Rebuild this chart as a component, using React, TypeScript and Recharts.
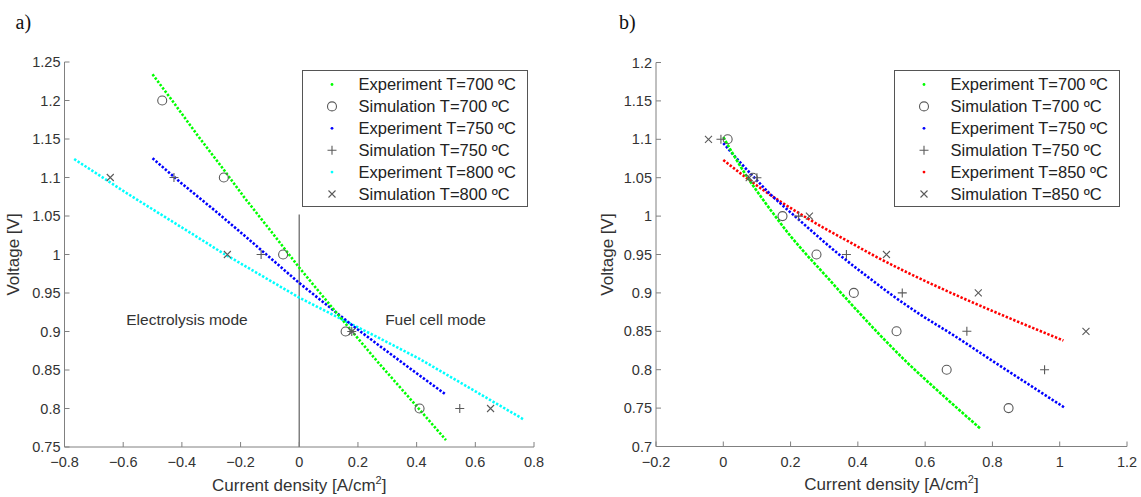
import React from 'react'
import { ComposedChart, Line, Scatter, XAxis, YAxis, ReferenceLine, ReferenceDot, Legend, Label } from 'recharts'

// ---- panel a) ----
const ticksXA = [-0.8, -0.6, -0.4, -0.2, 0, 0.2, 0.4, 0.6, 0.8]
const ticksYA = [0.75, 0.8, 0.85, 0.9, 0.95, 1, 1.05, 1.1, 1.15, 1.2, 1.25]

const expA700X = [-0.5, -0.435, -0.349, -0.259, -0.185, -0.1, 0, 0.071, 0.167, 0.264, 0.4, 0.5]
const expA700Y = [1.234, 1.201, 1.156, 1.111, 1.073, 1.032, 0.983, 0.95, 0.906, 0.862, 0.803, 0.759]
const expA750X = [-0.5, -0.406, -0.281, -0.185, 0, 0.105, 0.184, 0.275, 0.406, 0.5]
const expA750Y = [1.125, 1.094, 1.055, 1.024, 0.963, 0.931, 0.907, 0.881, 0.844, 0.818]
const expA800X = [-0.767, -0.577, -0.349, -0.27, 0, 0.139, 0.275, 0.412, 0.764]
const expA800Y = [1.124, 1.077, 1.023, 1.004, 0.944, 0.917, 0.891, 0.864, 0.786]

const simA700X = [-0.467, -0.257, -0.055, 0.158, 0.41]
const simA700Y = [1.2, 1.1, 1.0, 0.9, 0.8]
const simA750X = [-0.427, -0.13, 0.179, 0.547]
const simA750Y = [1.1, 1.0, 0.9, 0.8]
const simA800X = [-0.644, -0.245, 0.18, 0.652]
const simA800Y = [1.1, 1.0, 0.9, 0.8]

const zeroLineTop = 1.052

// ---- panel b) ----
const ticksXB = [-0.2, 0, 0.2, 0.4, 0.6, 0.8, 1, 1.2]
const ticksYB = [0.7, 0.75, 0.8, 0.85, 0.9, 0.95, 1, 1.05, 1.1, 1.15, 1.2]

const expB700X = [0, 0.03, 0.074, 0.109, 0.144, 0.198, 0.243, 0.293, 0.377, 0.466, 0.545, 0.639, 0.765]
const expB700Y = [1.103, 1.08, 1.049, 1.027, 1.006, 0.975, 0.952, 0.928, 0.887, 0.845, 0.81, 0.772, 0.723]
const expB750X = [0, 0.05, 0.099, 0.134, 0.189, 0.223, 0.285, 0.347, 0.426, 0.505, 0.585, 0.684, 0.788, 1.013]
const expB750Y = [1.095, 1.07, 1.047, 1.031, 1.009, 0.996, 0.972, 0.949, 0.922, 0.896, 0.872, 0.845, 0.815, 0.751]
const expB850X = [0, 0.05, 0.099, 0.159, 0.228, 0.297, 0.372, 0.446, 0.545, 0.642, 0.713, 0.862, 1.011]
const expB850Y = [1.073, 1.056, 1.04, 1.022, 1.003, 0.985, 0.967, 0.949, 0.927, 0.907, 0.893, 0.865, 0.838]

const simB700X = [0.013, 0.088, 0.176, 0.277, 0.388, 0.515, 0.664, 0.848]
const simB700Y = [1.1, 1.05, 1.0, 0.95, 0.9, 0.85, 0.8, 0.75]
const simB750X = [-0.007, 0.1, 0.224, 0.366, 0.532, 0.724, 0.955]
const simB750Y = [1.1, 1.05, 1.0, 0.95, 0.9, 0.85, 0.8]
const simB850X = [-0.044, 0.077, 0.256, 0.485, 0.758, 1.078]
const simB850Y = [1.1, 1.05, 1.0, 0.95, 0.9, 0.85]

const legendA = [
  { name: 'Experiment T=700 ºC', kind: 'dot', color: '#00ff00' },
  { name: 'Simulation T=700 ºC', kind: 'circle', color: '#5a5a5a' },
  { name: 'Experiment T=750 ºC', kind: 'dot', color: '#0000ff' },
  { name: 'Simulation T=750 ºC', kind: 'plus', color: '#5a5a5a' },
  { name: 'Experiment T=800 ºC', kind: 'dot', color: '#00ffff' },
  { name: 'Simulation T=800 ºC', kind: 'cross', color: '#5a5a5a' },
]
const legendB = [
  { name: 'Experiment T=700 ºC', kind: 'dot', color: '#00ff00' },
  { name: 'Simulation T=700 ºC', kind: 'circle', color: '#5a5a5a' },
  { name: 'Experiment T=750 ºC', kind: 'dot', color: '#0000ff' },
  { name: 'Simulation T=750 ºC', kind: 'plus', color: '#5a5a5a' },
  { name: 'Experiment T=850 ºC', kind: 'dot', color: '#ff0000' },
  { name: 'Simulation T=850 ºC', kind: 'cross', color: '#5a5a5a' },
]

const pts = (xs: number[], ys: number[]) => xs.map((x, i) => ({ x, y: ys[i] }))

const font = '"Liberation Sans", Arial, sans-serif'
const axisColor = '#808080'
const textColor = '#333333'
const simColor = '#5a5a5a'

const fmt = (v: number) => String(Math.round(v * 100) / 100).replace('-', '\u2212')

function marker(kind: string, cx: number, cy: number, color: string) {
  if (kind === 'circle') return <circle cx={cx} cy={cy} r={4.5} fill="none" stroke={color} strokeWidth={1.1} />
  if (kind === 'plus')
    return <path d={`M${cx - 4.5},${cy}H${cx + 4.5}M${cx},${cy - 4.5}V${cy + 4.5}`} stroke={color} strokeWidth={1.1} />
  if (kind === 'cross')
    return (
      <path
        d={`M${cx - 3.5},${cy - 3.5}L${cx + 3.5},${cy + 3.5}M${cx - 3.5},${cy + 3.5}L${cx + 3.5},${cy - 3.5}`}
        stroke={color}
        strokeWidth={1.1}
      />
    )
  return <circle cx={cx} cy={cy} r={1.4} fill={color} />
}

const shapeOf = (kind: string) => (p: any) => marker(kind, p.cx, p.cy, simColor)

const XTick = (p: any) => (
  <g>
    <line x1={p.x} x2={p.x} y1={p.y} y2={p.y - 5} stroke={axisColor} />
    <text x={p.x} y={p.y + 20} textAnchor="middle" fontSize={14.5} fill={textColor}>
      {fmt(p.payload.value)}
    </text>
  </g>
)

const YTick = (p: any) => (
  <g>
    <line x1={p.x} x2={p.x + 5} y1={p.y} y2={p.y} stroke={axisColor} />
    <text x={p.x - 4} y={p.y + 5} textAnchor="end" fontSize={14.5} fill={textColor}>
      {fmt(p.payload.value)}
    </text>
  </g>
)

const xTitle = (p: any) => {
  const vb = p.viewBox
  return (
    <text x={vb.x + vb.width / 2} y={vb.y + 43.5} textAnchor="middle" fontSize={17} fill={textColor}>
      Current density [A/cm
      <tspan dy={-7} fontSize={11}>2</tspan>
      <tspan dy={7}>]</tspan>
    </text>
  )
}

const yTitle = (xPos: number) => (p: any) => {
  const vb = p.viewBox
  const cy = vb.y + vb.height / 2
  return (
    <text x={xPos} y={cy} textAnchor="middle" fontSize={17} fill={textColor} transform={`rotate(-90, ${xPos}, ${cy})`}>
      Voltage [V]
    </text>
  )
}

function LegendBox({ items }: { items: typeof legendA }) {
  return (
    <svg width={227} height={138} style={{ display: 'block', fontFamily: font }}>
      <rect x={0.5} y={0.5} width={225} height={136} fill="#fff" stroke="#555" strokeWidth={1} />
      {items.map((it, i) => {
        const cy = 14.5 + i * 21.9
        return (
          <g key={it.name}>
            {marker(it.kind, 30, cy, it.color)}
            <text x={56.5} y={cy + 5.9} fontSize={16.5} fill="#222">
              {it.name}
            </text>
          </g>
        )
      })}
    </svg>
  )
}

const dotted = { strokeWidth: 2.6, strokeDasharray: '2.4 1.7', dot: false, activeDot: false, isAnimationActive: false }

export default function App() {
  return (
    <div style={{ position: 'absolute', left: 0, top: 0, width: 1141, height: 497, background: '#fff', fontFamily: font }}>
      <svg width={1141} height={497} style={{ position: 'absolute', left: 0, top: 0 }}>
        <text x={15.5} y={28.5} fontSize={20} fontFamily='"Liberation Serif", serif' fill="#111">a)</text>
        <text x={619} y={28.5} fontSize={20} fontFamily='"Liberation Serif", serif' fill="#111">b)</text>
      </svg>

      <div style={{ position: 'absolute', left: 0, top: 0 }}>
        <ComposedChart width={560} height={497} margin={{ top: 62, right: 26, bottom: 0, left: 0 }}>
          <XAxis
            type="number"
            dataKey="x"
            domain={[-0.8, 0.8]}
            ticks={ticksXA}
            interval={0}
            allowDataOverflow
            height={50}
            axisLine={{ stroke: axisColor }}
            tickLine={false}
            tickSize={0}
            tickMargin={0}
            tick={XTick}
          >
            <Label content={xTitle} />
          </XAxis>
          <YAxis
            type="number"
            dataKey="y"
            domain={[0.75, 1.25]}
            ticks={ticksYA}
            interval={0}
            allowDataOverflow
            width={64.5}
            axisLine={{ stroke: axisColor }}
            tickLine={false}
            tickSize={0}
            tickMargin={0}
            tick={YTick}
          >
            <Label content={yTitle(19)} />
          </YAxis>
          <ReferenceLine segment={[{ x: 0, y: 0.75 }, { x: 0, y: zeroLineTop }]} stroke={axisColor} strokeWidth={1.5} />
          <ReferenceDot x={-0.3825} y={0.9162} r={0} fill="none" stroke="none"
            label={{ value: 'Electrolysis mode', position: 'center', fill: textColor, fontSize: 15.5 }} />
          <ReferenceDot x={0.4645} y={0.915} r={0} fill="none" stroke="none"
            label={{ value: 'Fuel cell mode', position: 'center', fill: textColor, fontSize: 15.5 }} />
          <Line data={pts(expA800X, expA800Y)} dataKey="y" type="linear" stroke="#00ffff" {...dotted} />
          <Line data={pts(expA750X, expA750Y)} dataKey="y" type="linear" stroke="#0000ff" {...dotted} />
          <Line data={pts(expA700X, expA700Y)} dataKey="y" type="linear" stroke="#00ff00" {...dotted} />
          <Scatter data={pts(simA700X, simA700Y)} shape={shapeOf('circle')} isAnimationActive={false} />
          <Scatter data={pts(simA750X, simA750Y)} shape={shapeOf('plus')} isAnimationActive={false} />
          <Scatter data={pts(simA800X, simA800Y)} shape={shapeOf('cross')} isAnimationActive={false} />
          <Legend
            layout="vertical"
            align="center"
            verticalAlign="middle"
            wrapperStyle={{ top: 69.5, left: 301.5, width: 227, height: 138 }}
            content={() => <LegendBox items={legendA} />}
          />
        </ComposedChart>
      </div>

      <div style={{ position: 'absolute', left: 570, top: 0 }}>
        <ComposedChart width={571} height={497} margin={{ top: 62.5, right: 14, bottom: 0, left: 0 }}>
          <XAxis
            type="number"
            dataKey="x"
            domain={[-0.2, 1.2]}
            ticks={ticksXB}
            interval={0}
            allowDataOverflow
            height={50.5}
            axisLine={{ stroke: axisColor }}
            tickLine={false}
            tickSize={0}
            tickMargin={0}
            tick={XTick}
          >
            <Label content={xTitle} />
          </XAxis>
          <YAxis
            type="number"
            dataKey="y"
            domain={[0.7, 1.2]}
            ticks={ticksYB}
            interval={0}
            allowDataOverflow
            width={86}
            axisLine={{ stroke: axisColor }}
            tickLine={false}
            tickSize={0}
            tickMargin={0}
            tick={YTick}
          >
            <Label content={yTitle(43)} />
          </YAxis>
          <Line data={pts(expB850X, expB850Y)} dataKey="y" type="monotone" stroke="#ff0000" {...dotted} />
          <Line data={pts(expB750X, expB750Y)} dataKey="y" type="monotone" stroke="#0000ff" {...dotted} />
          <Line data={pts(expB700X, expB700Y)} dataKey="y" type="monotone" stroke="#00ff00" {...dotted} strokeDasharray="3 1.3" />
          <Scatter data={pts(simB700X, simB700Y)} shape={shapeOf('circle')} isAnimationActive={false} />
          <Scatter data={pts(simB750X, simB750Y)} shape={shapeOf('plus')} isAnimationActive={false} />
          <Scatter data={pts(simB850X, simB850Y)} shape={shapeOf('cross')} isAnimationActive={false} />
          <Legend
            layout="vertical"
            align="center"
            verticalAlign="middle"
            wrapperStyle={{ top: 70, left: 323.5, width: 227, height: 138 }}
            content={() => <LegendBox items={legendB} />}
          />
        </ComposedChart>
      </div>
    </div>
  )
}
